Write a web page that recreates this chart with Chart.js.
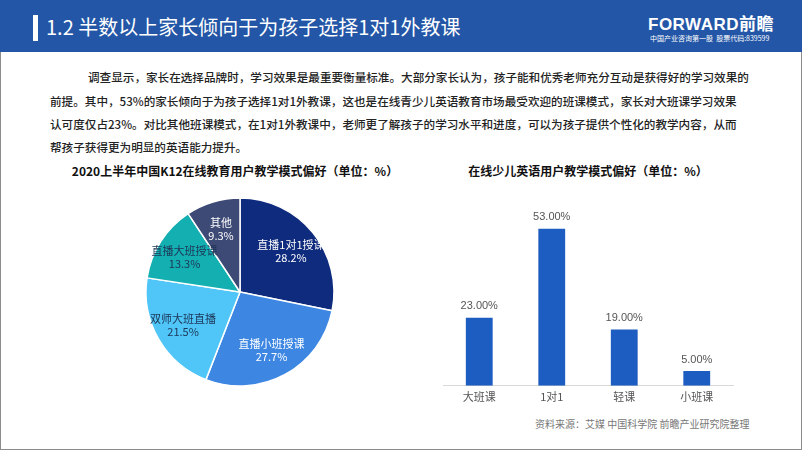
<!DOCTYPE html>
<html>
<head>
<meta charset="utf-8">
<script src="https://cdn.jsdelivr.net/npm/chart.js@4.4.1/dist/chart.umd.min.js"></script>
<style>
  body { margin: 0; width: 802px; height: 451px; overflow: hidden; background: #fff;
         font-family: "Noto Sans CJK SC", "Noto Sans", sans-serif; }
  #page { position: absolute; left: 0; top: 0; width: 800px; height: 449px; border: 1px solid #8c8c8c; border-top: none; }
  #header { position: absolute; left: 0; top: 0; width: 802px; height: 52px; background: #2356a6; }
  #bar { position: absolute; left: 33px; top: 15px; width: 5px; height: 26px; background: #fff; }
  #title { position: absolute; left: 46px; top: 12px; color: #fff; font-size: 20px; white-space: nowrap; }
  #logo { position: absolute; left: 648px; top: 10px; color: #fff; font-size: 17px; font-weight: bold; letter-spacing: 0.5px; font-family: "Liberation Sans", "Noto Sans CJK SC", sans-serif; }
  #logo2 { position: absolute; left: 650px; top: 33px; color: #fff; font-size: 7px; white-space: nowrap; }
  .para { position: absolute; color: #222; font-size: 11.6px; white-space: nowrap; font-weight: 500; }
  .ctitle { position: absolute; color: #111; font-size: 12px; font-weight: bold; white-space: nowrap; transform: translateX(-50%); }
  #src { position: absolute; left: 535px; top: 416px; color: #777; font-size: 10px; white-space: nowrap; }
  canvas { position: absolute; }
</style>
</head>
<body>
<div id="page"></div>
<div id="header"></div>
<div id="bar"></div>
<div id="title">1.2 半数以上家长倾向于为孩子选择1对1外教课</div>
<div id="logo">FORWARD前瞻</div>
<div id="logo2">中国产业咨询第一股 &nbsp;股票代码:839599</div>

<div class="para" style="left:88px; top:69px;">调查显示，家长在选择品牌时，学习效果是最重要衡量标准。大部分家长认为，孩子能和优秀老师充分互动是获得好的学习效果的</div>
<div class="para" style="left:50px; top:93px;">前提。其中，53%的家长倾向于为孩子选择1对1外教课，这也是在线青少儿英语教育市场最受欢迎的班课模式，家长对大班课学习效果</div>
<div class="para" style="left:50px; top:116px;">认可度仅占23%。对比其他班课模式，在1对1外教课中，老师更了解孩子的学习水平和进度，可以为孩子提供个性化的教学内容，从而</div>
<div class="para" style="left:50px; top:139px;">帮孩子获得更为明显的英语能力提升。</div>

<div class="ctitle" style="left:235px; top:162px;">2020上半年中国K12在线教育用户教学模式偏好（单位：%）</div>
<div class="ctitle" style="left:588px; top:162px;">在线少儿英语用户教学模式偏好（单位：%）</div>

<canvas id="pie" width="200" height="200" style="left:140px; top:192px; width:200px; height:200px;"></canvas>
<canvas id="bars" width="300" height="217" style="left:438px; top:190px; width:300px; height:217px;"></canvas>

<div id="src">资料来源：艾媒 中国科学院 前瞻产业研究院整理</div>

<script>
// left pie
const pieLabels = ['直播1对1授课', '直播小班授课', '双师大班直播', '直播大班授课', '其他'];
const pieValues = [28.2, 27.7, 21.5, 13.3, 9.3];
const pieColors = ['#0f2b7d', '#3d87e3', '#4fc6f7', '#14afb1', '#3d4a75'];
const pieTextColors = ['#fff', '#fff', '#1d3557', '#1d3557', '#fff'];

// right bars
const barLabels = ['大班课', '1对1', '轻课', '小班课'];
const barValues = [23, 53, 19, 5];

const pieLabelPlugin = {
  id: 'pieLabels',
  afterDatasetsDraw(chart) {
    const ctx = chart.ctx;
    const meta = chart.getDatasetMeta(0);
    ctx.save();
    ctx.font = '11px "Noto Sans CJK SC", sans-serif';
    ctx.textAlign = 'center';
    ctx.textBaseline = 'middle';
    meta.data.forEach((arc, i) => {
      const p = arc.getProps(['x', 'y', 'startAngle', 'endAngle', 'outerRadius']);
      const mid = (p.startAngle + p.endAngle) / 2;
      const r = p.outerRadius * 0.7;
      const x = p.x + Math.cos(mid) * r;
      const y = p.y + Math.sin(mid) * r;
      ctx.fillStyle = pieTextColors[i];
      ctx.fillText(pieLabels[i], x, y - 6);
      ctx.fillText(pieValues[i].toFixed(1) + '%', x, y + 7);
    });
    ctx.restore();
  }
};

new Chart(document.getElementById('pie'), {
  type: 'pie',
  data: {
    labels: pieLabels,
    datasets: [{
      data: pieValues,
      backgroundColor: pieColors,
      borderColor: '#fff',
      borderWidth: 1.5
    }]
  },
  options: {
    responsive: false,
    animation: false,
    radius: 94,
    plugins: { legend: { display: false }, tooltip: { enabled: false } }
  },
  plugins: [pieLabelPlugin]
});

const barLabelPlugin = {
  id: 'barLabels',
  afterDatasetsDraw(chart) {
    const ctx = chart.ctx;
    const meta = chart.getDatasetMeta(0);
    ctx.save();
    ctx.font = '11px "Liberation Sans", Arial, sans-serif';
    ctx.fillStyle = '#555';
    ctx.textAlign = 'center';
    ctx.textBaseline = 'bottom';
    meta.data.forEach((bar, i) => {
      ctx.fillText(barValues[i].toFixed(2) + '%', bar.x, bar.y - 6);
    });
    ctx.restore();
  }
};

new Chart(document.getElementById('bars'), {
  type: 'bar',
  data: {
    labels: barLabels,
    datasets: [{
      data: barValues,
      backgroundColor: '#1d5cc0',
      categoryPercentage: 1,
      barPercentage: 0.37
    }]
  },
  options: {
    responsive: false,
    animation: false,
    layout: { padding: { left: 5, right: 5, top: 18 } },
    scales: {
      x: {
        grid: { display: false, tickLength: 0 },
        border: { color: '#d9d9d9' },
        ticks: { color: '#555', font: { size: 11, family: '"Noto Sans CJK SC", sans-serif' }, padding: 4 }
      },
      y: { display: false, min: 0, max: 60 }
    },
    plugins: { legend: { display: false }, tooltip: { enabled: false } }
  },
  plugins: [barLabelPlugin]
});
</script>
</body>
</html>
